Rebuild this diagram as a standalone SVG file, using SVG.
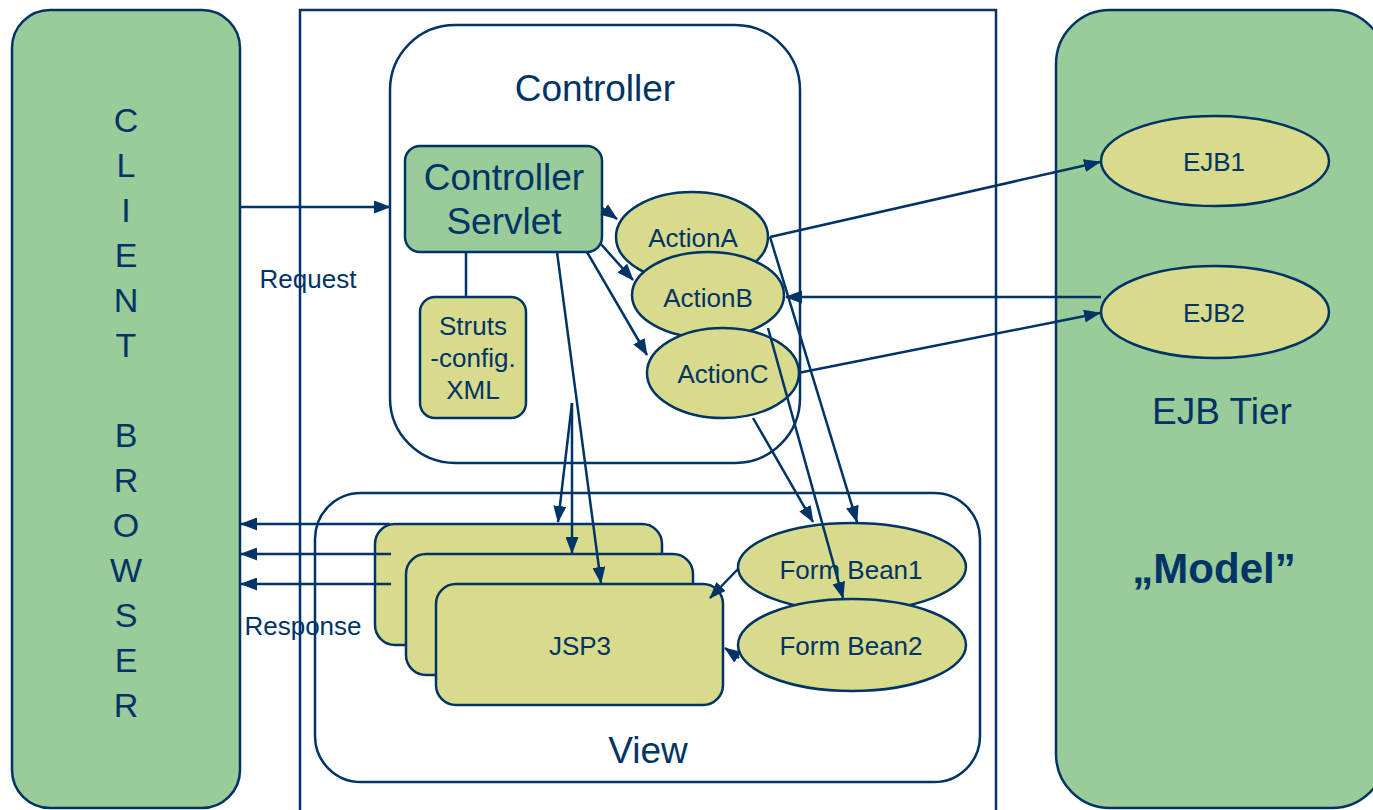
<svg xmlns="http://www.w3.org/2000/svg" width="1373" height="810" viewBox="0 0 1373 810">
<style>
.s{stroke:#003366;stroke-width:2.5;}
.g{fill:#99cc99;}
.y{fill:#d7db8b;}
.w{fill:#ffffff;}
.t{font-family:"Liberation Sans",Arial,sans-serif;fill:#003366;text-anchor:middle;}
.sm{font-size:26px;}
.lg{font-size:37px;}
.c{stroke:#003366;stroke-width:2.5;fill:none;marker-end:url(#ah);}
.l{stroke:#003366;stroke-width:2.5;fill:none;}
</style>
<defs>
<marker id="ah" markerUnits="userSpaceOnUse" markerWidth="17" markerHeight="13" refX="16" refY="6.5" orient="auto">
<path d="M0,0 L17,6.5 L0,13 z" fill="#003366"/>
</marker>
</defs>
<rect width="1373" height="810" fill="#ffffff"/>
<g id="client">
<rect class="s g" x="12" y="10" width="228" height="798" rx="38"/>
<g class="t" style="font-size:34px">
<text x="126" y="132">C</text><text x="126" y="177">L</text><text x="126" y="222">I</text><text x="126" y="267">E</text><text x="126" y="312">N</text><text x="126" y="357">T</text>
<text x="126" y="447">B</text><text x="126" y="492">R</text><text x="126" y="537">O</text><text x="126" y="582">W</text><text x="126" y="627">S</text><text x="126" y="672">E</text><text x="126" y="717">R</text>
</g>
</g>
<g id="webtier">
<rect class="s w" x="300" y="10" width="696" height="830"/>
</g>
<g id="controller">
<rect class="s w" x="390" y="25" width="410" height="438" rx="65"/>
<text class="t lg" x="595" y="101">Controller</text>
</g>
<g id="view">
<rect class="s w" x="315" y="493" width="665" height="289" rx="46"/>
<text class="t lg" x="648" y="763">View</text>
</g>
<g id="ejbtier">
<rect class="s g" x="1056" y="10" width="330" height="798" rx="54"/>
<text class="t lg" x="1222" y="424">EJB Tier</text>
<text class="t" x="1214" y="583" style="font-size:42px;font-weight:bold">„Model”</text>
</g>
<g id="servlet">
<rect class="s g" x="405" y="146" width="197" height="106" rx="15"/>
<text class="t lg" x="504" y="190">Controller</text>
<text class="t lg" x="504" y="234">Servlet</text>
</g>
<g id="struts">
<rect class="s y" x="420" y="297" width="106" height="121" rx="15"/>
<text class="t sm" x="473" y="335">Struts</text>
<text class="t sm" x="473" y="367">-config.</text>
<text class="t sm" x="473" y="399">XML</text>
</g>
<g id="actionA">
<ellipse class="s y" cx="692" cy="237" rx="76" ry="45"/>
<text class="t sm" x="693" y="247">ActionA</text>
</g>
<g id="actionB">
<ellipse class="s y" cx="708" cy="295" rx="76" ry="43"/>
<text class="t sm" x="708" y="307">ActionB</text>
</g>
<g id="actionC">
<ellipse class="s y" cx="723" cy="373" rx="76" ry="45"/>
<text class="t sm" x="723" y="383">ActionC</text>
</g>
<g id="jsp1">
<rect class="s y" x="375" y="524" width="287" height="121" rx="20"/>
</g>
<g id="jsp2">
<rect class="s y" x="406" y="554" width="287" height="121" rx="20"/>
</g>
<g id="jsp3">
<rect class="s y" x="436" y="584" width="287" height="121" rx="20"/>
<text class="t sm" x="580" y="655">JSP3</text>
</g>
<g id="formbean1">
<ellipse class="s y" cx="852" cy="567" rx="114" ry="44"/>
<text class="t sm" x="851" y="579">Form Bean1</text>
</g>
<g id="formbean2">
<ellipse class="s y" cx="852" cy="645" rx="114" ry="46"/>
<text class="t sm" x="851" y="655">Form Bean2</text>
</g>
<g id="ejb1">
<ellipse class="s y" cx="1215" cy="161" rx="114" ry="45"/>
<text class="t sm" x="1214" y="171">EJB1</text>
</g>
<g id="ejb2">
<ellipse class="s y" cx="1215" cy="312" rx="114" ry="46"/>
<text class="t sm" x="1214" y="322">EJB2</text>
</g>
<g id="connectors">
<line class="c" x1="240" y1="207" x2="390" y2="207"/>
<text class="t sm" x="308" y="288">Request</text>
<line class="l" x1="466" y1="252" x2="466" y2="297"/>
<line class="c" x1="602" y1="208" x2="617" y2="219"/>
<line class="c" x1="600" y1="243" x2="633" y2="280"/>
<line class="c" x1="587" y1="252" x2="647" y2="355"/>
<line class="c" x1="770" y1="237" x2="1100" y2="162"/>
<line class="c" x1="1101" y1="297" x2="786" y2="297"/>
<line class="c" x1="798" y1="373" x2="1100" y2="313"/>
<line class="c" x1="770" y1="237" x2="857" y2="522"/>
<line class="c" x1="768" y1="328" x2="843" y2="598"/>
<line class="c" x1="753" y1="418" x2="813" y2="522"/>
<line class="c" x1="557" y1="252" x2="601" y2="583"/>
<line class="c" x1="572" y1="403" x2="558" y2="522"/>
<line class="c" x1="572" y1="403" x2="572" y2="553"/>
<line class="c" x1="738" y1="569" x2="710" y2="598"/>
<line class="c" x1="739" y1="658" x2="725" y2="648"/>
<line class="c" x1="390" y1="524" x2="241" y2="524"/>
<line class="c" x1="391" y1="554" x2="241" y2="554"/>
<line class="c" x1="391" y1="584" x2="241" y2="584"/>
<text class="t sm" x="303" y="635">Response</text>
</g>
</svg>
